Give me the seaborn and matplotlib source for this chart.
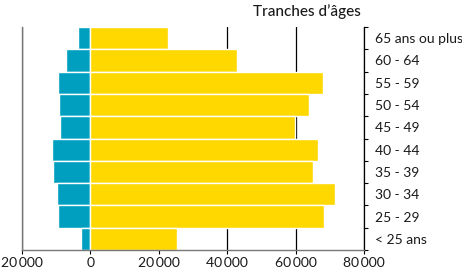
import matplotlib
matplotlib.use("Agg")
import matplotlib.pyplot as plt
import seaborn as sns
import pandas as pd
import numpy as np
from matplotlib.ticker import FuncFormatter, FixedLocator

categories = ["65 ans ou plus", "60 - 64", "55 - 59", "50 - 54", "45 - 49",
              "40 - 44", "35 - 39", "30 - 34", "25 - 29", "< 25 ans"]
hommes = [-3700, -7000, -9600, -9100, -8900, -11200, -10900, -9900, -9400, -2800]
femmes = [22600, 43000, 68000, 63800, 59800, 66500, 65100, 71500, 68400, 25300]
series_names = ["Hommes", "Femmes"]
colors = ["#009FBF", "#FFD800"]
xticks = [-20000, 0, 20000, 40000, 60000, 80000]
title = "Tranches d\u2019âges"

df = pd.DataFrame({
    "cat": categories * 2,
    "val": hommes + femmes,
    "serie": [series_names[0]] * len(categories) + [series_names[1]] * len(categories),
})

sns.set_theme(style="white")
plt.rcParams["font.family"] = ["Lato", "DejaVu Sans"]

fig = plt.figure(figsize=(4.62, 2.78), dpi=100)
ax = fig.add_axes([22 / 462, 1 - 250 / 278, (364 - 22) / 462, (250 - 27) / 278])

ax.set_axisbelow(True)
for xv in xticks:
    ax.axvline(xv, color="black", lw=0.9, zorder=0)

sns.barplot(data=df, y="cat", x="val", hue="serie", order=categories,
            hue_order=series_names, palette=colors, dodge=False, width=1.0,
            saturation=1, edgecolor="white", linewidth=1.0, ax=ax,
            legend=False, zorder=2)

ax.set_xlim(-20000, 80000)
ax.set_ylim(len(categories) - 0.5, -0.5)
ax.set_xticks(xticks)
ax.xaxis.set_major_formatter(FuncFormatter(lambda v, p: f"{int(abs(v)):,}".replace(",", "\u2009")))
ax.tick_params(axis="x", direction="out", length=3, width=0.8, color="black",
               labelsize=10, pad=2, bottom=True, labelcolor="#1a1a1a")

ax.yaxis.tick_right()
ax.set_yticks(range(len(categories)))
ax.set_yticklabels(categories)
ax.tick_params(axis="y", which="major", length=0, labelsize=10, pad=8, labelcolor="#1a1a1a")
ax.yaxis.set_minor_locator(FixedLocator(np.arange(-0.5, len(categories), 1.0)))
ax.tick_params(axis="y", which="minor", right=True, left=False, direction="out",
               length=3, width=0.8, color="black")

ax.set_xlabel("")
ax.set_ylabel("")

ax.spines["top"].set_visible(False)
ax.spines["left"].set_color("#777777")
ax.spines["left"].set_linewidth(1.0)
ax.spines["bottom"].set_color("#777777")
ax.spines["bottom"].set_linewidth(1.0)
ax.spines["right"].set_color("black")
ax.spines["right"].set_linewidth(0.9)

fig.text(307 / 462, 1 - 12 / 278, title, ha="center", va="center",
         fontsize=11, fontweight="medium", color="#1a1a1a")

fig.savefig("out.png", dpi=100)
